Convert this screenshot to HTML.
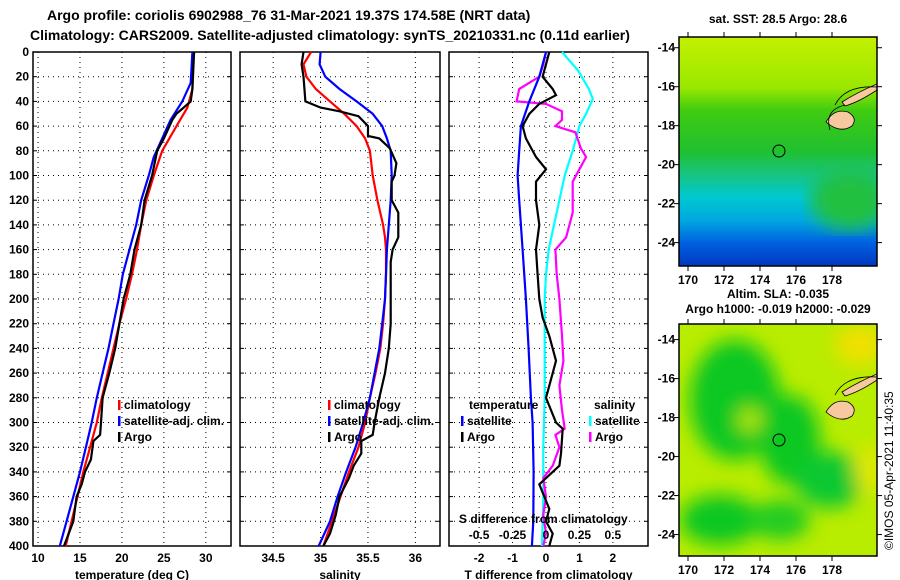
<!DOCTYPE html>
<html><head><meta charset="utf-8"><style>
body{margin:0;background:#fff}
svg{display:block;font-family:"Liberation Sans",sans-serif;font-weight:bold;font-size:12px}
</style></head><body>
<svg id="c" width="900" height="580" viewBox="0 0 900 580" xmlns="http://www.w3.org/2000/svg">
<defs>
<linearGradient id="sstg" x1="0" y1="0" x2="0" y2="1">
<stop offset="0" stop-color="#c4f000"/><stop offset="0.22" stop-color="#9ae800"/><stop offset="0.32" stop-color="#40cc10"/>
<stop offset="0.5" stop-color="#20c030"/><stop offset="0.6" stop-color="#18c480"/><stop offset="0.7" stop-color="#00c8d0"/>
<stop offset="0.8" stop-color="#00a8e0"/><stop offset="0.9" stop-color="#0060e0"/><stop offset="1" stop-color="#0038c0"/>
</linearGradient>
<filter id="bl"><feGaussianBlur stdDeviation="9"/></filter>
<clipPath id="m1c"><rect x="679" y="37" width="198" height="229"/></clipPath>
<clipPath id="m2c"><rect x="679" y="324" width="198" height="232"/></clipPath>
</defs>
<g font-size="14">
<text x="47" y="20">Argo profile: coriolis 6902988_76 31-Mar-2021 19.37S 174.58E (NRT data)</text>
<text x="30" y="40">Climatology: CARS2009. Satellite-adjusted climatology: synTS_20210331.nc (0.11d earlier)</text>
</g>
<g id="plots"></g>
<g>
<rect x="679" y="37" width="198" height="229" fill="url(#sstg)"/>
<g clip-path="url(#m1c)">
<ellipse cx="850" cy="200" rx="40" ry="30" fill="#20c040" filter="url(#bl)"/>
<path d="M826 122 q8 -14 22 -10 q10 6 4 14 q-12 8 -26 -4z" fill="#f8c8a0" stroke="#000" stroke-width="0.8"/>
<path d="M842 102 q16 -10 35 -18 l0 6 q-18 12 -32 16z" fill="#f8c8a0" stroke="#000" stroke-width="0.8"/>
<path d="M835 105 q10 -20 42 -18" fill="none" stroke="#000" stroke-width="0.8"/>
<path d="M830 130 q-6 -20 15 -25" fill="none" stroke="#000" stroke-width="0.8"/>
<circle cx="779" cy="151" r="6" fill="none" stroke="#000" stroke-width="1"/>
</g>
<rect x="679" y="37" width="198" height="229" fill="none" stroke="#000" stroke-width="1.5"/>
</g>
<g>
<rect x="679" y="324" width="198" height="232" fill="#b8ec00"/>
<g clip-path="url(#m2c)" filter="url(#bl)">
<ellipse cx="735" cy="400" rx="45" ry="60" fill="#10c820"/>
<ellipse cx="790" cy="440" rx="30" ry="45" fill="#10c820"/>
<ellipse cx="720" cy="520" rx="40" ry="25" fill="#10c820"/>
<ellipse cx="830" cy="480" rx="35" ry="28" fill="#10c830"/>
<ellipse cx="780" cy="520" rx="30" ry="20" fill="#20cc20"/>
<ellipse cx="750" cy="420" rx="12" ry="12" fill="#b0e800"/>
<ellipse cx="860" cy="345" rx="25" ry="20" fill="#f0e000"/>
<ellipse cx="870" cy="470" rx="15" ry="25" fill="#e0e800"/>
</g>
<g clip-path="url(#m2c)">
<path d="M826 412 q8 -14 22 -10 q10 6 4 14 q-12 8 -26 -4z" fill="#f8c8a0" stroke="#000" stroke-width="0.8"/>
<path d="M842 392 q16 -10 35 -18 l0 6 q-18 12 -32 16z" fill="#f8c8a0" stroke="#000" stroke-width="0.8"/>
<path d="M835 395 q10 -20 42 -18" fill="none" stroke="#000" stroke-width="0.8"/>
<circle cx="779" cy="440" r="6" fill="none" stroke="#000" stroke-width="1"/>
</g>
<rect x="679" y="324" width="198" height="232" fill="none" stroke="#000" stroke-width="1.5"/>
</g>
<text x="778" y="23" text-anchor="middle">sat. SST: 28.5 Argo: 28.6</text>
<text x="778" y="298" text-anchor="middle">Altim. SLA: -0.035</text>
<text x="778" y="313" text-anchor="middle">Argo h1000: -0.019 h2000: -0.029</text>
<text transform="translate(893,550) rotate(-90)" font-weight="normal">©IMOS 05-Apr-2021 11:40:35</text>
</svg>
<script>
const depthTicks=[0,20,40,60,80,100,120,140,160,180,200,220,240,260,280,300,320,340,360,380,400];
const tDepth=[0,30,40,50,55,70,80,100,120,140,160,180,200,220,240,260,280,300,310,315,330,340,350,360,380,400];
const tArgo=[28.6,28.4,28.2,26.5,26,25,24.2,23.6,22.7,22.3,21.5,21,20.2,19.7,19.2,18.5,17.7,17.5,17.4,16.6,16.3,15.6,15.2,14.6,14.2,13.1];
const cDepth=[0,30,45,60,80,100,120,140,160,180,200,220,240,260,280,300,320,340,360,380,400];
const tClim=[28.5,28.4,27.8,26.5,24.8,23.8,22.9,22.3,21.8,21.2,20.5,19.7,19,18.3,17.6,17,16.2,15.4,14.7,14,13.3];
const sDepth=[0,25,40,55,70,85,100,120,140,160,180,200,220,240,260,280,300,320,340,360,380,400];
const tSat=[28.4,28.2,27.2,25.8,24.8,23.8,23.2,22.3,21.7,20.9,20.1,19.6,19,18.4,17.7,17,16.4,15.7,15,14.2,13.4,12.6];
const saDepth=[0,10,20,40,45,48,52,60,68,70,78,90,100,105,120,130,150,160,170,200,220,240,260,280,300,310,315,325,335,345,360,375,390,400];
const sArgo=[34.82,34.8,34.82,34.84,35.0,35.2,35.4,35.5,35.5,35.62,35.73,35.8,35.78,35.75,35.75,35.82,35.82,35.76,35.74,35.74,35.74,35.72,35.68,35.62,35.57,35.55,35.43,35.43,35.35,35.3,35.2,35.16,35.1,35.03];
const scDepth=[0,10,20,30,40,50,60,70,80,100,120,140,150,160,180,200,220,240,260,280,300,320,340,360,380,400];
const sClim=[34.9,34.82,34.85,34.95,35.1,35.25,35.38,35.47,35.52,35.55,35.6,35.66,35.68,35.69,35.69,35.68,35.66,35.63,35.58,35.52,35.47,35.4,35.3,35.21,35.12,35.03];
const ssDepth=[0,10,20,30,40,50,60,70,80,100,120,140,160,180,200,220,240,260,280,300,320,340,360,380,400];
const sSat=[35.0,34.99,35.05,35.2,35.38,35.55,35.65,35.7,35.74,35.75,35.74,35.72,35.7,35.69,35.68,35.65,35.62,35.57,35.52,35.45,35.37,35.27,35.18,35.1,34.98];
const dtsDepth=[0,20,40,60,80,100,120,140,160,200,240,280,300,340,380,400];
const dtSat=[0,-0.2,-0.5,-0.75,-0.8,-0.85,-0.8,-0.75,-0.7,-0.6,-0.52,-0.45,-0.4,-0.37,-0.38,-0.42];
const dtaDepth=[0,10,20,30,35,42,50,60,70,85,95,105,120,140,160,180,200,215,230,250,260,280,300,305,325,335,340,350,360,370,380,390,400];
const dtArgo=[0.1,0,-0.1,0.2,0.3,-0.2,-0.5,-0.7,-0.6,-0.3,0,-0.3,-0.3,-0.2,-0.3,-0.25,-0.2,-0.1,0.1,0.3,0.2,0,0.3,0.5,0.45,0.4,0.2,-0.2,-0.05,0.1,0,0.2,0.1];
const dssDepth=[0,15,30,38,50,60,80,100,120,140,160,180,200,240,280,320,360,400];
const dsSat=[0.12,0.24,0.32,0.35,0.3,0.25,0.2,0.14,0.1,0.06,0.02,0,-0.01,-0.01,-0.01,-0.02,-0.02,-0.03];
const dsaDepth=[0,10,20,30,40,42,48,55,60,65,78,85,95,105,120,130,150,160,180,200,230,250,270,290,305,310,320,335,345,360,375,390,400];
const dsArgo=[0,-0.02,-0.05,-0.2,-0.22,0,0.12,0.12,0.07,0.22,0.26,0.3,0.25,0.2,0.2,0.2,0.15,0.07,0.08,0.1,0.12,0.13,0.1,0.12,0.14,0.07,0.1,0.05,-0.02,0,-0.02,0,-0.02];
const tTicks=[10,15,20,25,30];
const salTicks=[34.5,35,35.5,36];
const dtTicks=[-2,-1,0,1,2];
const dsTicks=[-0.5,-0.25,0,0.25,0.5];
const latTicks=[-14,-16,-18,-20,-22,-24];
const lonTicks=[170,172,174,176,178];

const NS='http://www.w3.org/2000/svg';
const root=document.getElementById('plots');
function mk(tag,attrs,parent){const e=document.createElementNS(NS,tag);for(const k in attrs)e.setAttribute(k,attrs[k]);(parent||root).appendChild(e);return e;}
const Y0=52,Y1=546;
const yD=d=>Y0+(d/400)*(Y1-Y0);
const panels=[
 {name:'temperature',x0:33,x1:231,v0:9.4,v1:33.0,ticks:tTicks,title:'temperature (deg C)',depthLabels:true},
 {name:'salinity',x0:240,x1:440,v0:34.15,v1:36.26,ticks:salTicks,title:'salinity'},
 {name:'difference',x0:449,x1:648,v0:-2.9,v1:3.05,ticks:dtTicks,title:'T difference from climatology'}
];
panels.forEach(p=>{p.x=v=>p.x0+(v-p.v0)/(p.v1-p.v0)*(p.x1-p.x0);});
panels.forEach(p=>{
 const g=mk('g',{});
 
 
 depthTicks.forEach(d=>{
  if(d>0&&d<400){const l=mk('line',{x1:p.x0,x2:p.x1,y1:yD(d),y2:yD(d),stroke:'#000','stroke-dasharray':'1 4','stroke-width':1},g);
   
   }
  mk('line',{x1:p.x0,x2:p.x0+4,y1:yD(d),y2:yD(d),stroke:'#000'},g);
  mk('line',{x1:p.x1-4,x2:p.x1,y1:yD(d),y2:yD(d),stroke:'#000'},g);
  if(p.depthLabels){const t=mk('text',{x:p.x0-4,y:yD(d)+4,'text-anchor':'end'},g);t.textContent=d;
   
   }
 });
 p.ticks.forEach(v=>{
  const X=p.x(v);
  const l=mk('line',{x1:X,x2:X,y1:Y0,y2:Y1,stroke:'#000','stroke-dasharray':'1 4'},g);
  
  
  const t=mk('text',{x:X,y:Y1+16,'text-anchor':'middle'},g);t.textContent=v;
  
  
 });
 const r=mk('rect',{x:p.x0,y:Y0,width:p.x1-p.x0,height:Y1-Y0,fill:'none',stroke:'#000','stroke-width':1.5},g);
 
 
 const tt=mk('text',{x:(p.x0+p.x1)/2,y:579,'text-anchor':'middle'},g);tt.textContent=p.title;
 
 
});
function line(p,depths,vals,color,name,conv){
 const pts=depths.map((d,i)=>p.x(conv?conv(vals[i]):vals[i]).toFixed(1)+','+yD(d).toFixed(1)).join(' ');
 const e=mk('polyline',{points:pts,fill:'none',stroke:color,'stroke-width':2.2});
 
 
}
const P=panels;
line(P[0],cDepth,tClim,'#ff0000','temp-climatology-line');
line(P[0],sDepth,tSat,'#0000ff','temp-satellite-line');
line(P[0],tDepth,tArgo,'#000','temp-argo-line');
line(P[1],scDepth,sClim,'#ff0000','sal-climatology-line');
line(P[1],ssDepth,sSat,'#0000ff','sal-satellite-line');
line(P[1],saDepth,sArgo,'#000','sal-argo-line');
const sConv=s=>s*4;
line(P[2],dssDepth,dsSat,'#00ffff','s-diff-satellite-line',sConv);
line(P[2],dsaDepth,dsArgo,'#ff00ff','s-diff-argo-line',sConv);
line(P[2],dtsDepth,dtSat,'#0000ff','t-diff-satellite-line');
line(P[2],dtaDepth,dtArgo,'#000','t-diff-argo-line');
dsTicks.forEach(v=>{const t=mk('text',{x:P[2].x(v*4),y:539,'text-anchor':'middle'});t.textContent=v;
 
 });
{const t=mk('text',{x:459,y:523});t.textContent='S difference from climatology';
 
 }
function leg(x,y,color,label){
 const g=mk('g',{});
 
 
 mk('rect',{x:x,y:y-9,width:2.5,height:10,fill:color},g);
 const t=mk('text',{x:x+6,y:y},g);t.textContent=label;
}
[118,328].forEach(x=>{leg(x,409,'#f00','climatology');leg(x,425,'#00f','satellite-adj. clim.');leg(x,441,'#000','Argo');});
{const t=mk('text',{x:469,y:409});t.textContent='temperature';
 
 }
{const t=mk('text',{x:594,y:409});t.textContent='salinity';
 
 }
leg(461,425,'#00f','satellite');leg(461,441,'#000','Argo');
leg(589,425,'#0ff','satellite');leg(589,441,'#f0f','Argo');
const maps=[{y0:37,y1:266,lat0:-13.45,lat1:-25.2,lab:284},{y0:324,y1:556,lat0:-13.2,lat1:-25.1,lab:574}];
maps.forEach(m=>{
 const ly=v=>m.y0+(v-m.lat0)/(m.lat1-m.lat0)*(m.y1-m.y0);
 const lx=v=>688+(v-170)*18;
 latTicks.forEach(v=>{
  mk('line',{x1:674,x2:679,y1:ly(v),y2:ly(v),stroke:'#000'});
  mk('line',{x1:877,x2:882,y1:ly(v),y2:ly(v),stroke:'#000'});
  const t=mk('text',{x:675,y:ly(v)+4,'text-anchor':'end'});t.textContent=v;
  
  
 });
 lonTicks.forEach(v=>{
  mk('line',{x1:lx(v),x2:lx(v),y1:m.y0-5,y2:m.y0,stroke:'#000'});
  mk('line',{x1:lx(v),x2:lx(v),y1:m.y1,y2:m.y1+5,stroke:'#000'});
  const t=mk('text',{x:lx(v),y:m.lab,'text-anchor':'middle'});t.textContent=v;
  
  
 });
});
</script>
</body></html>
